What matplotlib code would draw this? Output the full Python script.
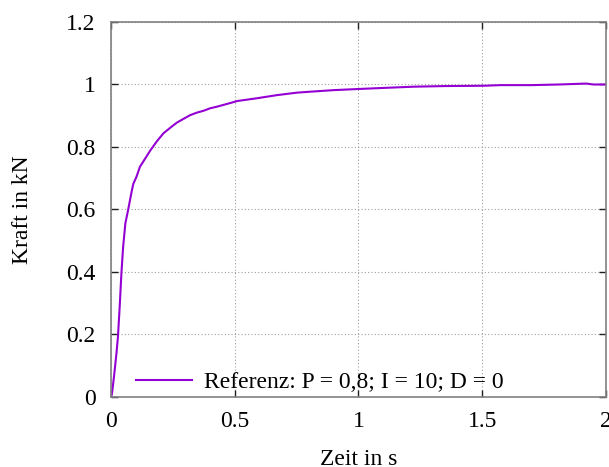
import matplotlib.pyplot as plt

# step response of the force controller
zeit = [0.0, 0.004, 0.012, 0.022, 0.028, 0.035, 0.042, 0.049, 0.058, 0.069,
        0.082, 0.090, 0.103, 0.117, 0.130, 0.158, 0.185, 0.212, 0.240, 0.266,
        0.295, 0.32, 0.347, 0.374, 0.401, 0.428, 0.488, 0.509, 0.59, 0.63,
        0.671, 0.752, 0.806, 0.9, 1.0, 1.1, 1.224, 1.35, 1.507, 1.575,
        1.7, 1.81, 1.92, 1.95, 2.0]
kraft = [0.0, 0.012, 0.065, 0.14, 0.193, 0.289, 0.396, 0.481, 0.556, 0.598,
         0.652, 0.682, 0.705, 0.737, 0.753, 0.788, 0.818, 0.844, 0.862, 0.878,
         0.891, 0.902, 0.910, 0.916, 0.924, 0.929, 0.942, 0.947, 0.956, 0.961,
         0.966, 0.974, 0.977, 0.982, 0.9856, 0.989, 0.993, 0.995, 0.996, 0.998,
         0.998, 1.0, 1.003, 1.0, 1.0]
label = "Referenz: P = 0,8; I = 10; D = 0"

xticks = [0, 0.5, 1, 1.5, 2]
xticklabels = ["0", "0.5", "1", "1.5", "2"]
yticks = [0, 0.2, 0.4, 0.6, 0.8, 1.0, 1.2]
yticklabels = ["0", "0.2", "0.4", "0.6", "0.8", "1", "1.2"]

plt.rcParams['font.family'] = ['Liberation Serif', 'DejaVu Serif']
plt.rcParams['font.size'] = 17

fig = plt.figure(figsize=(6.09, 4.67), dpi=100)
ax = fig.add_axes([0.1823, 0.1499, 0.8127, 0.803])

ax.plot(zeit, kraft, color='#9400d3', lw=1.5, label=label)

ax.set_xlim(0, 2)
ax.set_ylim(0, 1.2)
ax.set_xticks(xticks)
ax.set_xticklabels(xticklabels)
ax.set_yticks(yticks)
ax.set_yticklabels(yticklabels)
ax.tick_params(direction='in', length=5, width=1, color='#202020',
               top=True, right=True, labelsize=17)
ax.tick_params(axis='x', pad=10)
ax.tick_params(axis='y', pad=11)
ax.grid(True, ls=(0, (1, 2)), color='#a0a0a0', lw=0.8)
for s in ax.spines.values():
    s.set_color('#808080')
    s.set_linewidth(1.2)

ax.set_xlabel("Zeit in s", labelpad=12)
ax.set_ylabel("Kraft in kN", labelpad=24)

ax.legend(loc='lower left', frameon=False, handlelength=2.4,
          handletextpad=0.5, borderaxespad=0.0, bbox_to_anchor=(0.031, -0.014))

fig.savefig("out.png", dpi=100)
